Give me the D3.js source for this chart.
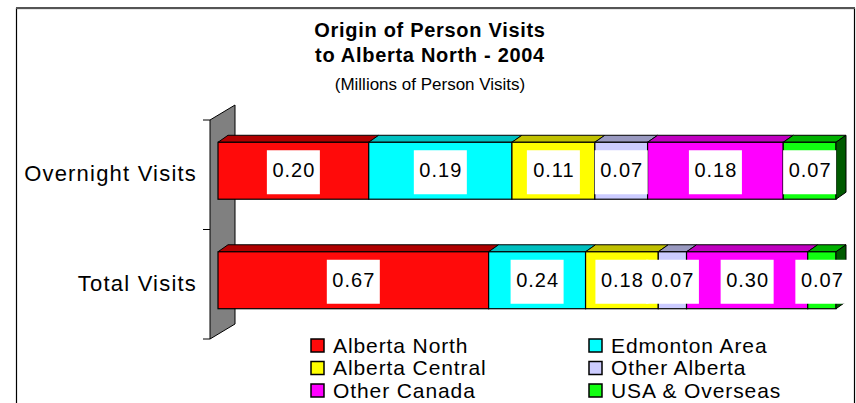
<!DOCTYPE html>
<html>
<head>
<meta charset="utf-8">
<script src="https://cdn.jsdelivr.net/npm/d3@7"></script>
<style>
  html, body { margin: 0; padding: 0; background: #fff; }
  svg { display: block; font-family: "Liberation Sans", Arial, sans-serif; }
</style>
</head>
<body>
<svg id="chart" width="856" height="403"></svg>
<script>
// ---- data ----
const categories = ["Overnight Visits", "Total Visits"];
const seriesNames = ["Alberta North", "Edmonton Area", "Alberta Central", "Other Alberta", "Other Canada", "USA & Overseas"];
const overnightValues = [0.20, 0.19, 0.11, 0.07, 0.18, 0.07];
const totalValues = [0.67, 0.24, 0.18, 0.07, 0.30, 0.07];
const frontColors = ["#ff0a0a", "#00ffff", "#ffff00", "#ccccff", "#ff00ff", "#11ff11"];
const topColors = ["#b00000", "#00c0c0", "#c0c000", "#9999c0", "#c000c0", "#00b000"];
const titleLines = ["Origin of Person Visits", "to Alberta North - 2004"];
const subtitle = "(Millions of Person Visits)";

const seriesValues = [overnightValues, totalValues];
const table = categories.map((c, i) => {
  const row = { category: c };
  seriesNames.forEach((s, j) => row[s] = seriesValues[i][j]);
  return row;
});

const svg = d3.select("#chart");

// frame
svg.append("rect").attr("x", 16.5).attr("y", 8.5).attr("width", 838).attr("height", 420)
  .attr("fill", "#fff").attr("stroke", "#000").attr("stroke-width", 1.2);
svg.append("line").attr("x1", 16).attr("x2", 855).attr("y1", 8).attr("y2", 8)
  .attr("stroke", "#555").attr("stroke-width", 2);

// titles
const cx = 430;
svg.append("text").attr("x", cx).attr("y", 37).attr("text-anchor", "middle")
  .attr("font-weight", "bold").attr("font-size", 20).attr("letter-spacing", 0.7).text(titleLines[0]);
svg.append("text").attr("x", cx).attr("y", 62).attr("text-anchor", "middle")
  .attr("font-weight", "bold").attr("font-size", 20).attr("letter-spacing", 0.7).text(titleLines[1]);
svg.append("text").attr("x", cx).attr("y", 90).attr("text-anchor", "middle")
  .attr("font-size", 17).text(subtitle);

// scales
const x = d3.scaleLinear().domain([0, 1]).range([218, 836]);
const y = d3.scaleBand().domain(categories).range([120, 339]).padding(0);

const dx = 10, dy = -7;
const wallDx = 25, wallDy = -15;
const barH = y.bandwidth() * 0.52;

// wall
const wx = x(0) - 8;
svg.append("polygon")
  .attr("points", [[wx, y.range()[0]], [wx + wallDx, y.range()[0] + wallDy], [wx + wallDx, y.range()[1] + wallDy], [wx, y.range()[1]]].map(p => p.join(",")).join(" "))
  .attr("fill", "#808080").attr("stroke", "#000").attr("stroke-width", 1);

// ticks
const tickYs = categories.map(c => y(c)).concat([y.range()[1]]);
svg.selectAll("line.tick").data(tickYs).join("line")
  .attr("x1", wx - 7).attr("x2", wx).attr("y1", d => d).attr("y2", d => d)
  .attr("stroke", "#000");

// category labels
svg.selectAll("text.cat").data(categories).join("text")
  .attr("class", "cat")
  .attr("x", 197).attr("y", d => y(d) + y.bandwidth() / 2 + 6.5)
  .attr("text-anchor", "end").attr("font-size", 22).attr("letter-spacing", 1.2)
  .text(d => d);

// stacked bars (100%)
const stack = d3.stack().keys(seriesNames).offset(d3.stackOffsetExpand);
const stacked = stack(table);

const barTop = c => y(c) + y.bandwidth() / 2 - 4 - barH / 2;

const gBars = svg.append("g");
categories.forEach((c, ci) => {
  const g = gBars.append("g");
  const yt = barTop(c);
  stacked.forEach((s, si) => {
    const d = s[ci];
    const x0 = x(d[0]), x1 = x(d[1]);
    // top face
    g.append("polygon")
      .attr("points", [[x0, yt], [x0 + dx, yt + dy], [x1 + dx, yt + dy], [x1, yt]].map(p => p.join(",")).join(" "))
      .attr("fill", topColors[si]).attr("stroke", "#000").attr("stroke-width", 1).attr("stroke-linejoin", "round");
  });
  stacked.forEach((s, si) => {
    const d = s[ci];
    const x0 = x(d[0]), x1 = x(d[1]);
    g.append("rect").attr("x", x0).attr("y", yt).attr("width", x1 - x0).attr("height", barH)
      .attr("fill", frontColors[si]).attr("stroke", "#000").attr("stroke-width", 1.2);
  });
  // right side face
  const xr = x(1);
  g.append("polygon")
    .attr("points", [[xr, yt], [xr + dx, yt + dy], [xr + dx, yt + barH + dy], [xr, yt + barH]].map(p => p.join(",")).join(" "))
    .attr("fill", "#005a00").attr("stroke", "#000").attr("stroke-width", 1);
});

// value labels
const fmt = d3.format(".2f");
const gLab = svg.append("g");
categories.forEach((c, ci) => {
  const yc = barTop(c) + barH / 2;
  stacked.forEach((s, si) => {
    const d = s[ci];
    const mid = (x(d[0]) + x(d[1])) / 2;
    gLab.append("rect").attr("x", mid - 26.5).attr("y", yc - 20.5).attr("width", 53).attr("height", 44)
      .attr("fill", "#fff");
    gLab.append("text").attr("x", mid + 0.5).attr("y", yc + 6.5).attr("text-anchor", "middle")
      .attr("font-size", 20).attr("letter-spacing", 1).text(fmt(d.data[s.key]));
  });
});

// legend
const legCols = [311, 589];
const legRows = [339, 361.5, 384];
const gLeg = svg.append("g");
seriesNames.forEach((name, i) => {
  const col = i % 2, row = Math.floor(i / 2);
  const lx = legCols[col], ly = legRows[row];
  gLeg.append("rect").attr("x", lx).attr("y", ly).attr("width", 13).attr("height", 13)
    .attr("fill", frontColors[i]).attr("stroke", "#000").attr("stroke-width", 1.5);
  gLeg.append("text").attr("x", lx + 22).attr("y", ly + 13.5)
    .attr("font-size", 21).attr("letter-spacing", 0.9).text(name);
});
</script>
</body>
</html>
